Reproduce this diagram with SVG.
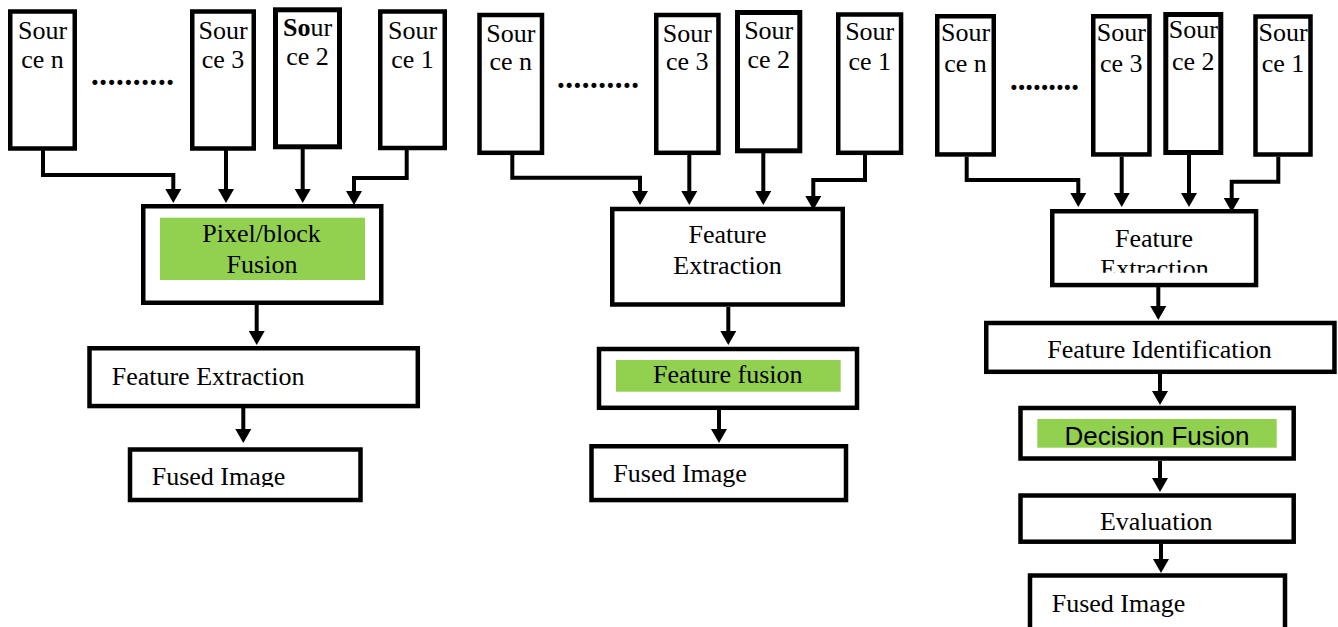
<svg xmlns="http://www.w3.org/2000/svg" width="1338" height="627" viewBox="0 0 1338 627">
<style>
.box{fill:#fff;stroke:#000;stroke-width:4.5}
.src2{fill:#fff;stroke:#000;stroke-width:5}
.green{fill:#92D050;stroke:none}
.t{font-family:"Liberation Serif","Times New Roman",serif;font-size:26px;fill:#000}
.c{text-anchor:middle}
.sans{font-family:"Liberation Sans",Arial,sans-serif;font-size:26px;fill:#000}
.dots{font-family:"Liberation Serif","Times New Roman",serif;font-size:31px;font-weight:bold;fill:#000}
.conn{fill:none;stroke:#000;stroke-width:4;marker-end:url(#ah)}
</style>
<defs>
<marker id="ah" viewBox="0 0 14 16" refX="6" refY="8" markerWidth="14" markerHeight="16" markerUnits="userSpaceOnUse" orient="auto">
<path d="M0,0 L14,8 L0,16 z" fill="#000"/>
</marker>
<clipPath id="clipF1"><rect x="100" y="440" width="260" height="47"/></clipPath>
<clipPath id="clipE3"><rect x="1050" y="200" width="210" height="72.7"/></clipPath>
</defs>
<rect width="1338" height="627" fill="#fff"/>

<g id="connectors">
<path class="conn" d="M43,150 V175 H173.3 V195"/>
<path class="conn" d="M226,150 V195"/>
<path class="conn" d="M302.7,149 V195"/>
<path class="conn" d="M406.7,150 V178 H354 V197"/>
<path class="conn" d="M256.7,305 V337"/>
<path class="conn" d="M243.3,408 V435"/>

<path class="conn" d="M512.3,155 V177.7 H640 V197"/>
<path class="conn" d="M689.3,155 V197"/>
<path class="conn" d="M763.3,153 V197"/>
<path class="conn" d="M865,155 V180 H813.3 V202"/>
<path class="conn" d="M728.3,307 V337"/>
<path class="conn" d="M719,410 V435"/>

<path class="conn" d="M966.7,156.7 V180 H1078.3 V199"/>
<path class="conn" d="M1121.7,156.7 V199"/>
<path class="conn" d="M1189,155 V199"/>
<path class="conn" d="M1278.3,156.7 V181.7 H1231.7 V204"/>
<path class="conn" d="M1158.3,287 V312"/>
<path class="conn" d="M1160,374 V397"/>
<path class="conn" d="M1160,461 V484"/>
<path class="conn" d="M1161,544 V565"/>
</g>

<!-- Panel 1 -->
<g id="p1-src-n"><rect class="box" x="10.25" y="11.5" width="64.5" height="137"/>
<text class="t c" x="42.5" y="39">Sour</text><text class="t c" x="42.5" y="68">ce n</text></g>
<g id="p1-dots"><text class="dots" x="91" y="85" textLength="83" lengthAdjust="spacing">..........</text></g>
<g id="p1-src-3"><rect class="box" x="192.25" y="11.5" width="61.5" height="137"/>
<text class="t c" x="223" y="39">Sour</text><text class="t c" x="223" y="68">ce 3</text></g>
<g id="p1-src-2"><rect class="src2" x="275.5" y="9.8" width="64" height="137"/>
<text class="t c" x="307.5" y="36"><tspan font-weight="bold">So</tspan>ur</text><text class="t c" x="307.5" y="65">ce 2</text></g>
<g id="p1-src-1"><rect class="box" x="380.25" y="11.5" width="64.5" height="136.5"/>
<text class="t c" x="412.5" y="39">Sour</text><text class="t c" x="412.5" y="68">ce 1</text></g>
<g id="p1-pixel-fusion"><rect class="box" x="143.25" y="206.25" width="238" height="96.5"/>
<rect class="green" x="160" y="217.7" width="205" height="62.3"/>
<text class="t c" x="261.5" y="242">Pixel/block</text><text class="t c" x="262" y="272.7">Fusion</text></g>
<g id="p1-feature-extraction"><rect class="box" x="89.5" y="348.25" width="328.3" height="57.8"/>
<text class="t" x="111.7" y="385">Feature Extraction</text></g>
<g id="p1-fused-image"><rect class="box" x="130" y="449.5" width="230.5" height="50.5"/>
<text class="t" x="151.7" y="485" clip-path="url(#clipF1)">Fused Image</text></g>

<!-- Panel 2 -->
<g id="p2-src-n"><rect class="box" x="479.5" y="15" width="62.5" height="137.8"/>
<text class="t c" x="510.8" y="41.5">Sour</text><text class="t c" x="510.8" y="70">ce n</text></g>
<g id="p2-dots"><text class="dots" x="557" y="88" textLength="82" lengthAdjust="spacing">..........</text></g>
<g id="p2-src-3"><rect class="box" x="656.25" y="15" width="62.2" height="137.8"/>
<text class="t c" x="687.3" y="41.5">Sour</text><text class="t c" x="687.3" y="70">ce 3</text></g>
<g id="p2-src-2"><rect class="src2" x="737.5" y="12.5" width="62.3" height="138.3"/>
<text class="t c" x="768.7" y="39">Sour</text><text class="t c" x="768.7" y="68">ce 2</text></g>
<g id="p2-src-1"><rect class="box" x="838.25" y="14.5" width="62.8" height="138.3"/>
<text class="t c" x="869.7" y="40">Sour</text><text class="t c" x="869.7" y="70">ce 1</text></g>
<g id="p2-feature-extraction"><rect class="box" x="612.25" y="209" width="230.5" height="95.5"/>
<text class="t c" x="727.5" y="243.3">Feature</text><text class="t c" x="727.5" y="274">Extraction</text></g>
<g id="p2-feature-fusion"><rect class="box" x="599" y="349" width="258" height="58.8"/>
<rect class="green" x="616" y="360" width="224.7" height="31.7"/>
<text class="t c" x="727.8" y="383.3">Feature fusion</text></g>
<g id="p2-fused-image"><rect class="box" x="591.5" y="446.25" width="254.5" height="53.8"/>
<text class="t" x="613.3" y="481.7">Fused Image</text></g>

<!-- Panel 3 -->
<g id="p3-src-n"><rect class="box" x="937.25" y="16.25" width="56.5" height="138.2"/>
<text class="t c" x="965.5" y="41">Sour</text><text class="t c" x="965.5" y="72">ce n</text></g>
<g id="p3-dots"><text class="dots" x="1010" y="90" textLength="69" lengthAdjust="spacing">.........</text></g>
<g id="p3-src-3"><rect class="box" x="1093.25" y="16.25" width="56.2" height="138.2"/>
<text class="t c" x="1121.3" y="41">Sour</text><text class="t c" x="1121.3" y="72">ce 3</text></g>
<g id="p3-src-2"><rect class="src2" x="1165.8" y="14.5" width="55" height="138"/>
<text class="t c" x="1193.3" y="38">Sour</text><text class="t c" x="1193.3" y="70">ce 2</text></g>
<g id="p3-src-1"><rect class="box" x="1255.5" y="16.5" width="55" height="138"/>
<text class="t c" x="1283" y="41">Sour</text><text class="t c" x="1283" y="72">ce 1</text></g>
<g id="p3-feature-extraction"><rect class="box" x="1052.25" y="211.25" width="203.8" height="73.8"/>
<text class="t c" x="1154" y="246.7">Feature</text><text class="t c" x="1154.5" y="277" clip-path="url(#clipE3)">Extraction</text></g>
<g id="p3-feature-identification"><rect class="box" x="986.25" y="323" width="348.2" height="48.8"/>
<text class="t c" x="1159.5" y="358.3">Feature Identification</text></g>
<g id="p3-decision-fusion"><rect class="box" x="1020.5" y="408" width="273.2" height="50.5"/>
<rect class="green" x="1037.3" y="419" width="239.4" height="28.7"/>
<text class="sans c" x="1157" y="445">Decision Fusion</text></g>
<g id="p3-evaluation"><rect class="box" x="1020.5" y="495.5" width="273.2" height="46.2"/>
<text class="t c" x="1156.3" y="530">Evaluation</text></g>
<g id="p3-fused-image"><rect class="box" x="1030" y="575.5" width="255" height="60"/>
<text class="t" x="1051.7" y="611.7">Fused Image</text></g>
</svg>
